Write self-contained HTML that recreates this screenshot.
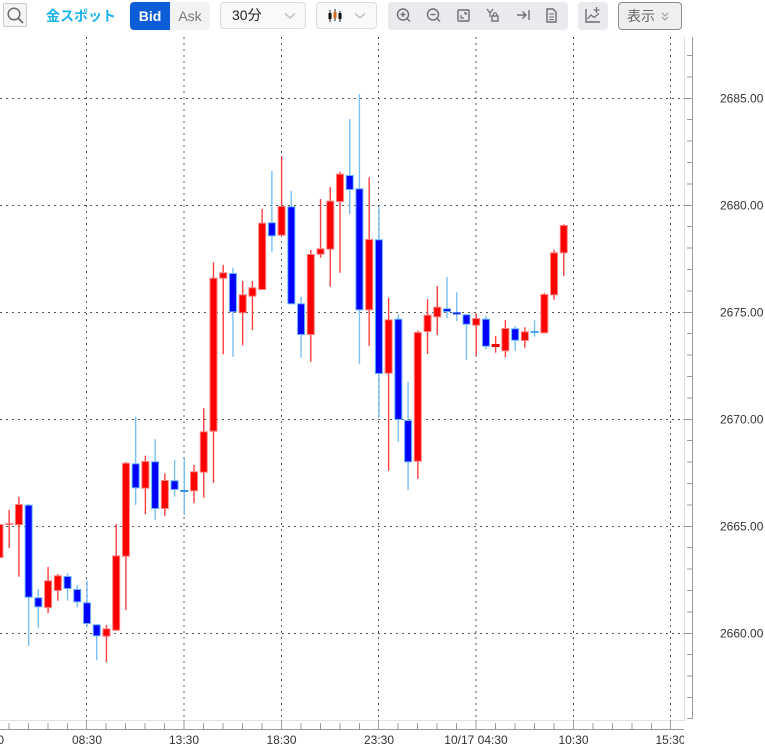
<!DOCTYPE html>
<html><head><meta charset="utf-8">
<style>
html,body{margin:0;padding:0;background:#fff;}
body{width:765px;height:748px;overflow:hidden;position:relative;font-family:"Liberation Sans","Noto Sans CJK JP",sans-serif;}
.abs{position:absolute;box-sizing:border-box;}
.btn{top:2px;height:27px;border:1px solid #dcdcdc;border-radius:4px;background:#f8f9fa;}
.rw{stroke:#ff3d3d;stroke-width:1.4;}
.bw{stroke:#78bff8;stroke-width:1.4;}
.r{fill:#ff0000;stroke:#ff8080;stroke-width:1;}
.b{fill:#0000ff;stroke:#62b2ff;stroke-width:1;}
</style></head><body>
<svg class="abs" style="left:0;top:0" width="765" height="748" viewBox="0 0 765 748" xmlns="http://www.w3.org/2000/svg">
<!-- light borders -->
<line x1="684.5" y1="37" x2="684.5" y2="721" stroke="#dedede" stroke-width="1"/>
<line x1="0" y1="720.5" x2="684" y2="720.5" stroke="#e2e2e2" stroke-width="1"/>
<!-- grid horizontal -->
<g stroke="#555" stroke-width="1" stroke-dasharray="2 4">
<line x1="0" y1="98.5" x2="684" y2="98.5"/>
<line x1="0" y1="205.5" x2="684" y2="205.5"/>
<line x1="0" y1="312.5" x2="684" y2="312.5"/>
<line x1="0" y1="419.5" x2="684" y2="419.5"/>
<line x1="0" y1="526.5" x2="684" y2="526.5"/>
<line x1="0" y1="633.5" x2="684" y2="633.5"/>
</g>
<g stroke="#555" stroke-width="1" stroke-dasharray="2 4">
<line x1="86.5" y1="37" x2="86.5" y2="720"/>
<line x1="184" y1="37" x2="184" y2="720"/>
<line x1="281.5" y1="37" x2="281.5" y2="720"/>
<line x1="378.5" y1="37" x2="378.5" y2="720"/>
<line x1="476" y1="37" x2="476" y2="720"/>
<line x1="573.5" y1="37" x2="573.5" y2="720"/>
<line x1="670.5" y1="37" x2="670.5" y2="720"/>
</g>
<!-- right axis -->
<line x1="692.5" y1="37" x2="692.5" y2="719" stroke="#9a9a9a" stroke-width="1"/>
<path stroke="#9a9a9a" stroke-width="1" fill="none" d="M687 718.5H692M687 697.5H692M687 676H692M687 654.5H692M683 633.5H692M687 612H692M687 590.5H692M687 569H692M687 547.5H692M683 526.5H692M687 505H692M687 483.5H692M687 462H692M687 440.5H692M683 419.5H692M687 398H692M687 376.5H692M687 355H692M687 333.5H692M683 312.5H692M687 291H692M687 269.5H692M687 248H692M687 226.5H692M683 205.5H692M687 184H692M687 162.5H692M687 141H692M687 119.5H692M683 98.5H692M687 77H692M687 55.5H692"/>
<g font-family="Liberation Sans, sans-serif" font-size="12" fill="#333">
<text x="720" y="102.5">2685.00</text>
<text x="720" y="209.5">2680.00</text>
<text x="720" y="316.5">2675.00</text>
<text x="720" y="423.5">2670.00</text>
<text x="720" y="530.5">2665.00</text>
<text x="720" y="637.5">2660.00</text>
</g>
<!-- bottom axis -->
<line x1="0" y1="729.5" x2="684" y2="729.5" stroke="#9a9a9a" stroke-width="1"/>
<path stroke="#9a9a9a" stroke-width="1" fill="none" d="M9 723V729M28.5 723V729M48 723V729M67.5 723V729M86.5 720V729M106 723V729M125.5 723V729M145 723V729M164.5 723V729M184 720V729M203.5 723V729M223 723V729M242.5 723V729M262 723V729M281.5 720V729M301 723V729M320.5 723V729M340 723V729M359.5 723V729M378.5 720V729M398 723V729M417.5 723V729M437 723V729M456.5 723V729M476 720V729M495.5 723V729M515 723V729M534.5 723V729M554 723V729M573.5 720V729M593 723V729M612.5 723V729M632 723V729M651.5 723V729M670.5 720V729"/>
<svg x="0" y="730" width="684" height="18" overflow="hidden">
<g font-family="Liberation Sans, sans-serif" font-size="12" fill="#333" text-anchor="middle">
<text x="-11" y="14">03:30</text>
<text x="87" y="14">08:30</text>
<text x="184" y="14">13:30</text>
<text x="281.5" y="14">18:30</text>
<text x="379" y="14">23:30</text>
<text x="476" y="14">10/17 04:30</text>
<text x="573.5" y="14">10:30</text>
<text x="670.5" y="14">15:30</text>
</g>
</svg>
<!-- wicks -->
<g>
<line class="rw" x1="9.16" y1="510" x2="9.16" y2="548"/>
<line class="rw" x1="18.89" y1="497" x2="18.89" y2="576.7"/>
<line class="bw" x1="28.62" y1="504" x2="28.62" y2="646"/>
<line class="bw" x1="38.35" y1="589" x2="38.35" y2="627.7"/>
<line class="rw" x1="48.08" y1="567" x2="48.08" y2="613"/>
<line class="rw" x1="57.81" y1="574" x2="57.81" y2="600.7"/>
<line class="bw" x1="67.54" y1="573.3" x2="67.54" y2="600.7"/>
<line class="bw" x1="77.27" y1="585" x2="77.27" y2="607.3"/>
<line class="bw" x1="87" y1="580.7" x2="87" y2="627.3"/>
<line class="bw" x1="96.73" y1="624" x2="96.73" y2="660"/>
<line class="rw" x1="106.46" y1="625" x2="106.46" y2="662.3"/>
<line class="rw" x1="116.19" y1="524" x2="116.19" y2="631"/>
<line class="rw" x1="125.92" y1="462" x2="125.92" y2="610"/>
<line class="bw" x1="135.65" y1="416.7" x2="135.65" y2="505"/>
<line class="rw" x1="145.38" y1="455.7" x2="145.38" y2="514.3"/>
<line class="bw" x1="155.11" y1="439.3" x2="155.11" y2="520"/>
<line class="rw" x1="164.84" y1="473.3" x2="164.84" y2="516"/>
<line class="bw" x1="174.57" y1="460" x2="174.57" y2="496.7"/>
<line class="bw" x1="184.3" y1="459" x2="184.3" y2="515"/>
<line class="rw" x1="194.03" y1="465" x2="194.03" y2="503.3"/>
<line class="rw" x1="203.76" y1="408.3" x2="203.76" y2="497.7"/>
<line class="rw" x1="213.49" y1="262.3" x2="213.49" y2="482.7"/>
<line class="rw" x1="223.22" y1="265" x2="223.22" y2="354.3"/>
<line class="bw" x1="232.95" y1="267.7" x2="232.95" y2="356.7"/>
<line class="rw" x1="242.68" y1="281" x2="242.68" y2="345.3"/>
<line class="rw" x1="252.41" y1="281" x2="252.41" y2="330"/>
<line class="rw" x1="262.14" y1="209" x2="262.14" y2="290"/>
<line class="bw" x1="271.87" y1="171" x2="271.87" y2="251.7"/>
<line class="rw" x1="281.6" y1="156" x2="281.6" y2="235.7"/>
<line class="bw" x1="291.33" y1="191" x2="291.33" y2="304.3"/>
<line class="bw" x1="301.06" y1="296.7" x2="301.06" y2="357.7"/>
<line class="rw" x1="310.79" y1="250" x2="310.79" y2="361.7"/>
<line class="rw" x1="320.52" y1="199" x2="320.52" y2="257.7"/>
<line class="rw" x1="330.25" y1="187" x2="330.25" y2="286.7"/>
<line class="rw" x1="339.98" y1="171.7" x2="339.98" y2="272.7"/>
<line class="bw" x1="349.71" y1="119" x2="349.71" y2="214"/>
<line class="bw" x1="359.44" y1="94.3" x2="359.44" y2="363.7"/>
<line class="rw" x1="369.17" y1="177.3" x2="369.17" y2="345.7"/>
<line class="bw" x1="378.9" y1="206.7" x2="378.9" y2="417.7"/>
<line class="rw" x1="388.63" y1="297.7" x2="388.63" y2="470.7"/>
<line class="bw" x1="398.36" y1="314.3" x2="398.36" y2="441.7"/>
<line class="bw" x1="408.09" y1="382" x2="408.09" y2="490"/>
<line class="rw" x1="417.82" y1="330.7" x2="417.82" y2="478.7"/>
<line class="rw" x1="427.55" y1="299.3" x2="427.55" y2="354"/>
<line class="rw" x1="437.28" y1="286" x2="437.28" y2="335"/>
<line class="bw" x1="447.01" y1="277" x2="447.01" y2="318.3"/>
<line class="bw" x1="456.74" y1="292.3" x2="456.74" y2="321"/>
<line class="bw" x1="466.47" y1="314" x2="466.47" y2="360"/>
<line class="rw" x1="476.2" y1="314" x2="476.2" y2="355.3"/>
<line class="bw" x1="485.93" y1="315.7" x2="485.93" y2="349.3"/>
<line class="rw" x1="495.66" y1="336" x2="495.66" y2="352.7"/>
<line class="rw" x1="505.39" y1="320" x2="505.39" y2="357.3"/>
<line class="bw" x1="515.12" y1="326" x2="515.12" y2="350.7"/>
<line class="rw" x1="524.85" y1="327.3" x2="524.85" y2="347.7"/>
<line class="bw" x1="534.58" y1="320.3" x2="534.58" y2="336.7"/>
<line class="rw" x1="544.31" y1="293" x2="544.31" y2="333.3"/>
<line class="rw" x1="554.04" y1="249.7" x2="554.04" y2="299.7"/>
<line class="rw" x1="563.77" y1="224.3" x2="563.77" y2="276"/>
</g>
<!-- bodies -->
<g>
<rect class="r" x="-4.07" y="524.5" width="7" height="33"/>
<rect x="5.16" y="523.3" width="8" height="1.6" fill="#ff6a6a"/>
<rect class="r" x="15.39" y="504.5" width="7" height="20.2"/>
<rect class="b" x="25.12" y="505.2" width="7" height="92"/>
<rect class="b" x="34.85" y="597.8" width="7" height="9"/>
<rect class="r" x="44.58" y="580.8" width="7" height="26.7"/>
<rect class="r" x="54.31" y="575.8" width="7" height="14.7"/>
<rect class="b" x="64.04" y="576.5" width="7" height="12"/>
<rect class="b" x="73.77" y="589.5" width="7" height="12.3"/>
<rect class="b" x="83.5" y="602.8" width="7" height="20.7"/>
<rect class="b" x="93.23" y="624.8" width="7" height="11"/>
<rect class="r" x="102.96" y="628.8" width="7" height="7.4"/>
<rect class="r" x="112.69" y="555.8" width="7" height="74.4"/>
<rect class="r" x="122.42" y="463.2" width="7" height="93"/>
<rect class="b" x="132.15" y="463.8" width="7" height="24"/>
<rect class="r" x="141.88" y="461.5" width="7" height="26.7"/>
<rect class="b" x="151.61" y="461.8" width="7" height="46.7"/>
<rect class="r" x="161.34" y="480.5" width="7" height="28"/>
<rect class="b" x="171.07" y="480.8" width="7" height="8.7"/>
<rect x="180.3" y="490" width="8" height="2" fill="#3c8ff0"/>
<rect class="r" x="190.53" y="471.8" width="7" height="19"/>
<rect class="r" x="200.26" y="431.8" width="7" height="40.4"/>
<rect class="r" x="209.99" y="278.2" width="7" height="153"/>
<rect class="r" x="219.72" y="272.8" width="7" height="5.4"/>
<rect class="b" x="229.45" y="273.5" width="7" height="38.3"/>
<rect class="r" x="239.18" y="294.8" width="7" height="18"/>
<rect class="r" x="248.91" y="287.8" width="7" height="8.4"/>
<rect class="r" x="258.64" y="223.2" width="7" height="66.3"/>
<rect class="b" x="268.37" y="222.8" width="7" height="13"/>
<rect class="r" x="278.1" y="206.5" width="7" height="28.7"/>
<rect class="b" x="287.83" y="206.8" width="7" height="97"/>
<rect class="b" x="297.56" y="303.8" width="7" height="30.7"/>
<rect class="r" x="307.29" y="254.5" width="7" height="80"/>
<rect class="r" x="317.02" y="248.8" width="7" height="5.4"/>
<rect class="r" x="326.75" y="201.2" width="7" height="48"/>
<rect class="r" x="336.48" y="174.2" width="7" height="27.3"/>
<rect class="b" x="346.21" y="175.5" width="7" height="14"/>
<rect class="b" x="355.94" y="188.8" width="7" height="121"/>
<rect class="r" x="365.67" y="239.5" width="7" height="70.3"/>
<rect class="b" x="375.4" y="239.8" width="7" height="133.7"/>
<rect class="r" x="385.13" y="319.8" width="7" height="53.4"/>
<rect class="b" x="394.86" y="319.2" width="7" height="100.3"/>
<rect class="b" x="404.59" y="420.5" width="7" height="41.3"/>
<rect class="r" x="414.32" y="332.5" width="7" height="128.7"/>
<rect class="r" x="424.05" y="315.2" width="7" height="16.3"/>
<rect class="r" x="433.78" y="307.2" width="7" height="9.6"/>
<rect class="b" x="443.51" y="308.8" width="7" height="2.7"/>
<rect x="452.74" y="312.3" width="8" height="2.2" fill="#1a3af5"/>
<rect class="b" x="462.97" y="314.8" width="7" height="9.4"/>
<rect class="r" x="472.7" y="318.5" width="7" height="6.7"/>
<rect class="b" x="482.43" y="319.2" width="7" height="27"/>
<rect x="491.66" y="344" width="8" height="3" fill="#ff0000"/>
<rect class="r" x="501.89" y="328.5" width="7" height="22.3"/>
<rect class="b" x="511.62" y="328.8" width="7" height="11.4"/>
<rect class="r" x="521.35" y="331.8" width="7" height="8.7"/>
<rect x="530.58" y="331" width="8" height="2" fill="#4aa0f5"/>
<rect class="r" x="540.81" y="294.5" width="7" height="38.3"/>
<rect class="r" x="550.54" y="252.8" width="7" height="42"/>
<rect class="r" x="560.27" y="225.5" width="7" height="27.3"/>
</g>
</svg>

<!-- toolbar -->
<div class="abs" style="left:3px;top:3px;width:24px;height:24px;border:1px solid #c9c9c9;border-radius:2px;background:#f6f6f6;">
<svg width="22" height="22" style="position:absolute;left:0;top:0"><circle cx="10" cy="10" r="5.8" fill="none" stroke="#6b6b6b" stroke-width="1.5"/><line x1="14.3" y1="14.3" x2="19" y2="19" stroke="#6b6b6b" stroke-width="1.8"/></svg>
</div>
<div class="abs" style="left:46px;top:5px;height:22px;line-height:22px;font-size:14px;font-weight:bold;color:#1ab4ea;font-family:'Liberation Sans','Noto Sans CJK JP',sans-serif;white-space:nowrap;">金スポット</div>
<div class="abs" style="left:130px;top:2px;width:40px;height:28px;background:#0b5ed8;border-radius:4px 0 0 4px;color:#fff;font-size:14px;font-weight:bold;text-align:center;line-height:28px;">Bid</div>
<div class="abs" style="left:170px;top:2px;width:40px;height:28px;background:#f1f2f4;border-radius:0 4px 4px 0;color:#7a7a7a;font-size:14px;text-align:center;line-height:28px;">Ask</div>
<div class="abs btn" style="left:220px;width:86px;">
<span style="position:absolute;left:11px;top:0;line-height:25px;font-size:14px;color:#222;font-family:'Liberation Sans','Noto Sans CJK JP',sans-serif;">30分</span>
<svg width="12" height="8" style="position:absolute;left:63px;top:9px"><path d="M1 1.5L6 6L11 1.5" fill="none" stroke="#bbb" stroke-width="1.3"/></svg>
</div>
<div class="abs btn" style="left:316px;width:61px;">
<svg width="16" height="14" style="position:absolute;left:11px;top:6px"><path d="M2 1V13M7 0V12M12 2V13" stroke="#222" stroke-width="1"/><rect x="0.5" y="4" width="3" height="6" fill="#111"/><rect x="5.5" y="3" width="3" height="6" fill="#d2691e"/><rect x="10.5" y="4" width="3" height="6" fill="#111"/></svg>
<svg width="12" height="8" style="position:absolute;left:37px;top:9px"><path d="M1 1.5L6 6L11 1.5" fill="none" stroke="#bbb" stroke-width="1.3"/></svg>
</div>
<div class="abs" style="left:388px;top:2px;width:180px;height:28px;background:#e8eaed;border-radius:4px;">
<svg width="180" height="28" style="position:absolute;left:0;top:0" fill="none" stroke="#6e6e6e" stroke-width="1.4">
<circle cx="15" cy="12.5" r="5.5"/><line x1="19" y1="16.5" x2="22" y2="19.5"/><line x1="12.5" y1="12.5" x2="17.5" y2="12.5"/><line x1="15" y1="10" x2="15" y2="15"/>
<circle cx="45" cy="12.5" r="5.5"/><line x1="49" y1="16.5" x2="52" y2="19.5"/><line x1="42.5" y1="12.5" x2="47.5" y2="12.5"/>
<rect x="70" y="8" width="11" height="11" rx="1"/><path d="M73 13V16H76M78 11V11.5" stroke-width="1.2"/><path d="M76 11H78V13"/>
<path d="M99 7L102 11L105 7M102 11V15" stroke-width="1.2"/><rect x="104" y="14" width="6" height="5"/><path d="M105.3 14V12.5A1.7 1.7 0 0 1 108.7 12.5V14" stroke-width="1.1"/>
<path d="M129 13H138M134.5 9.5L138 13L134.5 16.5M141 8V18"/>
<path d="M159 7H165L168 10V20H159Z"/><path d="M161 12H166M161 15H166M161 17.5H166" stroke-width="1.1"/>
</svg>
</div>
<div class="abs" style="left:578px;top:2px;width:30px;height:28px;background:#e8eaed;border-radius:4px;">
<svg width="30" height="28" style="position:absolute;left:0;top:0" fill="none" stroke="#6e6e6e" stroke-width="1.4"><path d="M8 7V20H22"/><path d="M9.5 17L13 13L16 15.5L21 11.5" stroke-width="1.2"/><path d="M18.5 5V11M15.5 8H21.5" stroke-width="1.3"/></svg>
</div>
<div class="abs" style="left:618px;top:2px;width:64px;height:28px;border:1px solid #8c8c8c;border-radius:4px;background:#efefef;">
<span style="position:absolute;left:8px;top:0;line-height:26px;font-size:14px;color:#666;font-family:'Liberation Sans','Noto Sans CJK JP',sans-serif;">表示</span>
<svg width="10" height="12" style="position:absolute;left:41px;top:8px" fill="none" stroke="#999" stroke-width="1.1"><path d="M2 2L5 5L8 2M2 6L5 9L8 6"/></svg>
</div>
</body></html>
